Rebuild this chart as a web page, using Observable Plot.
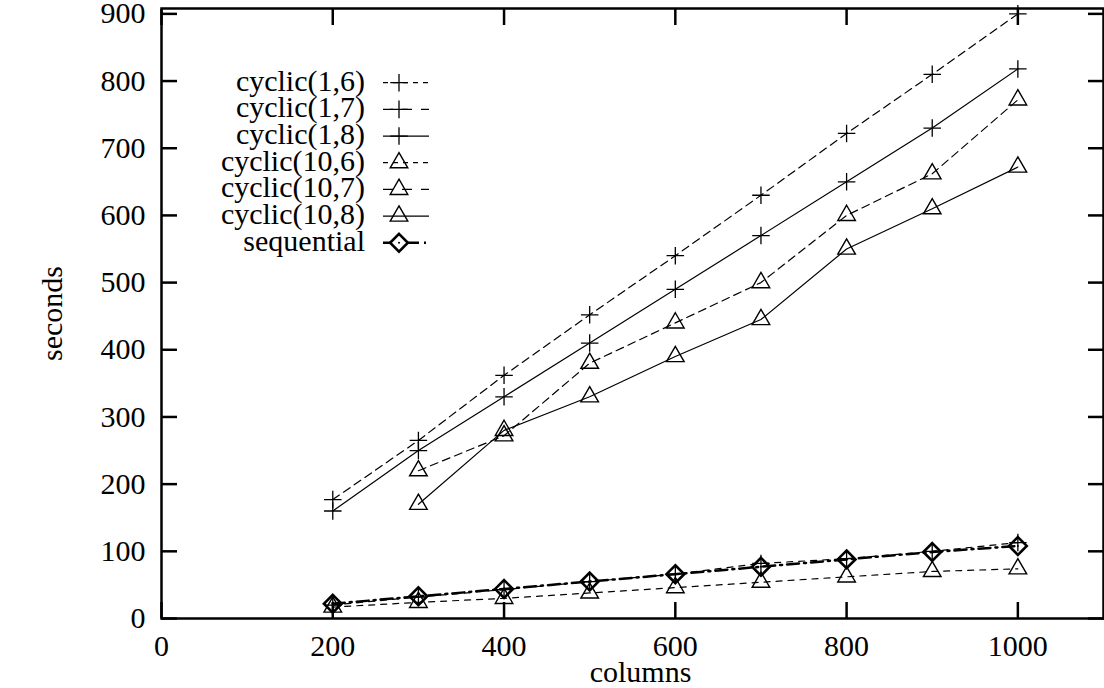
<!DOCTYPE html>
<html><head><meta charset="utf-8">
<script src="https://cdn.jsdelivr.net/npm/d3@7"></script>
<script src="https://cdn.jsdelivr.net/npm/@observablehq/plot@0.6"></script>
<style>body{margin:0;background:#fff} svg{display:block}</style>
</head><body><div id="chart"></div>
<script>
// ---- data ----
const columns = [200, 300, 400, 500, 600, 700, 800, 900, 1000];
const columns10 = [300, 400, 500, 600, 700, 800, 900, 1000];
const cyclic_1_6 = [177, 265, 362, 452, 540, 630, 722, 810, 900];
const cyclic_1_7 = [20, 32, 43, 55, 66, 82, 89, 100, 113];
const cyclic_1_8 = [160, 250, 330, 410, 490, 570, 650, 730, 818];
const cyclic_10_6 = [220, 272, 380, 440, 500, 600, 662, 772];
const cyclic_10_7 = [17, 24, 30, 38, 46, 54, 62, 70, 74];
const cyclic_10_8 = [170, 280, 330, 390, 445, 550, 610, 672];
const sequential = [22, 33, 44, 55, 66, 77, 88, 99, 108];
const seriesNames = ["cyclic(1,6)", "cyclic(1,7)", "cyclic(1,8)", "cyclic(10,6)", "cyclic(10,7)", "cyclic(10,8)", "sequential"];
const seriesX = [columns, columns, columns, columns10, columns, columns10, columns];
const seriesY = [cyclic_1_6, cyclic_1_7, cyclic_1_8, cyclic_10_6, cyclic_10_7, cyclic_10_8, sequential];
const xTicks = [0, 200, 400, 600, 800, 1000];
const yTicks = [0, 100, 200, 300, 400, 500, 600, 700, 800, 900];
const xLabel = "columns";
const yLabel = "seconds";

// ---- styles ----
const styles = {
  "cyclic(1,6)":  {dash: "8,5",  legendDash: "5,5",  symbol: "plus",      r: 5.7, sw: 1.2, msw: 1.3},
  "cyclic(1,7)":  {dash: "6,6",  legendDash: "10,9", symbol: "plus",      r: 5.7, sw: 1.2, msw: 1.3},
  "cyclic(1,8)":  {dash: null,   legendDash: null,   symbol: "plus",      r: 5.7, sw: 1.2, msw: 1.3},
  "cyclic(10,6)": {dash: "8,5",  legendDash: "5,5",  symbol: "triangle2", r: 8.4, sw: 1.2, msw: 1.4},
  "cyclic(10,7)": {dash: "6,6",  legendDash: "10,9", symbol: "triangle2", r: 8.4, sw: 1.2, msw: 1.4},
  "cyclic(10,8)": {dash: null,   legendDash: null,   symbol: "triangle2", r: 8.4, sw: 1.2, msw: 1.4},
  "sequential":   {dash: "12,5,2,5", legendDash: "12,5,2,5", symbol: "diamond2", r: 8, sw: 2.5, msw: 2.6}
};

const rows = [];
seriesNames.forEach((name, i) => seriesX[i].forEach((x, j) => rows.push({series: name, x, y: seriesY[i][j]})));

const marks = [];
for (const name of seriesNames) {
  const s = styles[name];
  const data = rows.filter(d => d.series === name);
  marks.push(Plot.line(data, {x: "x", y: "y", stroke: "black", strokeWidth: s.sw, strokeDasharray: s.dash, strokeLinejoin: "miter"}));
}
for (const name of seriesNames) {
  const s = styles[name];
  const data = rows.filter(d => d.series === name);
  marks.push(Plot.dot(data, {x: "x", y: "y", symbol: s.symbol, r: s.r, stroke: "black", strokeWidth: s.msw, fill: "none"}));
  if (name === "sequential") marks.push(Plot.dot(data, {x: "x", y: "y", r: 1, fill: "black"}));
}

const chart = Plot.plot({
  width: 1104,
  height: 688,
  marginLeft: 161,
  marginRight: 1,
  marginTop: 8,
  marginBottom: 70,
  style: {fontFamily: "'Liberation Serif', 'Times New Roman', serif", fontSize: "30px", color: "black", background: "white"},
  x: {domain: [0, 1100], label: null},
  y: {domain: [0, 908], label: null},
  marks: [
    ...marks,
    Plot.axisX({ticks: xTicks, tickSize: -16, tickPadding: 32, strokeWidth: 2.5, tickFormat: d => String(d), label: null, fill: "black"}),
    Plot.axisX({anchor: "top", ticks: xTicks, tickSize: -16, strokeWidth: 2.5, tickFormat: () => "", label: null}),
    Plot.axisY({ticks: yTicks, tickSize: -16, tickPadding: 32, strokeWidth: 2.5, tickFormat: d => String(d), label: null, fill: "black"}),
    Plot.axisY({anchor: "right", ticks: yTicks, tickSize: -16, strokeWidth: 2.5, tickFormat: () => "", label: null}),
    Plot.frame({stroke: "black", strokeWidth: 2.5}),
    Plot.text([xLabel], {text: d => d, frameAnchor: "bottom", dy: 54, dx: 8, lineAnchor: "middle", fill: "black"}),
    Plot.text([yLabel], {text: d => d, frameAnchor: "left", dx: -109, rotate: -90, textAnchor: "middle", lineAnchor: "middle", fill: "black"})
  ]
});
document.getElementById("chart").appendChild(chart);

// ---- legend (key box inside the plot) ----
const svg = d3.select(chart);
const legend = svg.append("g").attr("class", "legend");
const symbolTypes = {plus: d3.symbolPlus, triangle2: d3.symbolTriangle2, diamond2: d3.symbolDiamond2};
seriesNames.forEach((name, i) => {
  const s = styles[name];
  const cy = 81.7 + i * 26.67;
  legend.append("text").attr("x", 365).attr("y", cy + 9).attr("text-anchor", "end")
    .attr("fill", "black").text(name);
  legend.append("line").attr("x1", 383).attr("x2", 429).attr("y1", cy + 1).attr("y2", cy + 1)
    .attr("stroke", "black").attr("stroke-width", s.sw).attr("stroke-dasharray", s.legendDash);
  legend.append("path").attr("transform", `translate(399,${cy + 1})`)
    .attr("d", d3.symbol(symbolTypes[s.symbol], Math.PI * s.r * s.r)())
    .attr("fill", name === "sequential" ? "white" : "none").attr("stroke", "black").attr("stroke-width", s.msw);
  if (name === "sequential") legend.append("circle").attr("cx", 399).attr("cy", cy + 1).attr("r", 1).attr("fill", "black");
});
</script>
</body></html>
